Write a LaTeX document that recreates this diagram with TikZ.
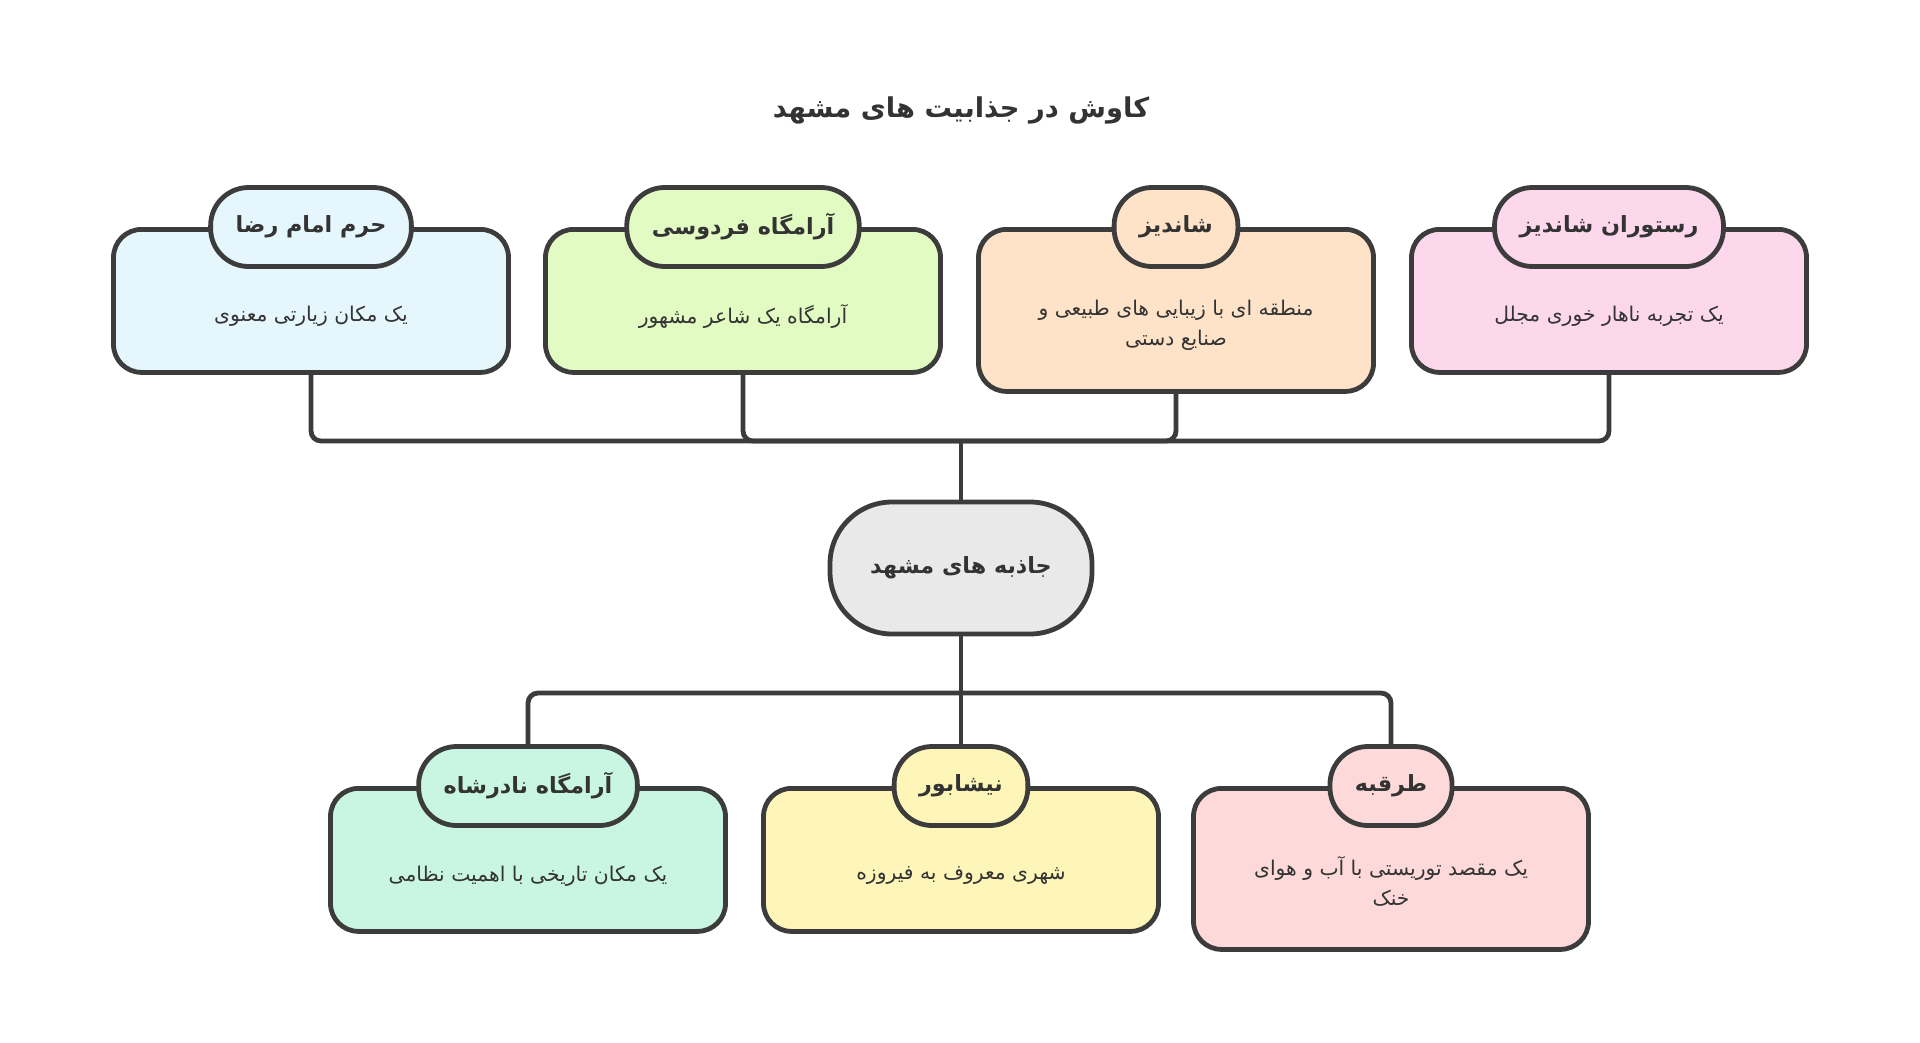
\documentclass[tikz,border=0pt]{standalone}
\usepackage{fontspec}
\TeXXeTstate=1
\newfontfamily\fa[Script=Arabic]{DejaVu Sans}
\definecolor{edge}{HTML}{3C3C3C}
\definecolor{ink}{HTML}{333333}
\definecolor{hubfill}{HTML}{E9E9E9}
\definecolor{haramfill}{HTML}{E5F6FD}
\definecolor{ferdfill}{HTML}{E1FBC2}
\definecolor{shandfill}{HTML}{FEE3C9}
\definecolor{restfill}{HTML}{FDD8EC}
\definecolor{naderfill}{HTML}{C9F6E2}
\definecolor{neyfill}{HTML}{FEF6B9}
\definecolor{torqfill}{HTML}{FDD9D9}

\begin{document}
\begin{tikzpicture}[x=1pt,y=-1pt,
  card/.style={draw=edge, line width=4.8pt, rounded corners=28pt, minimum width=395pt, minimum height=143pt, anchor=north},
  tab/.style={draw=edge, line width=4.8pt, rounded corners=38pt, minimum height=79pt, inner xsep=25pt, text=ink, font=\fa\bfseries\fontsize{22.3}{26}\selectfont},
  desc/.style={text=ink, align=center, font=\fa\fontsize{20.3}{30}\selectfont},
  link/.style={draw=edge, line width=4.8pt, rounded corners=10pt}]
\useasboundingbox (0,0) rectangle (1920,1042);

\node[text=ink, font=\fa\bfseries\fontsize{27.3}{32}\selectfont] (title) at (961,110) {\beginR کاوش در جذابیت های مشهد\endR};

\node[card, fill=haramfill] (c1) at (311,227) {};
\node[card, fill=ferdfill] (c2) at (743,227) {};
\node[card, fill=shandfill, minimum height=162pt] (c3) at (1176,227) {};
\node[card, fill=restfill] (c4) at (1609,227) {};

\node[tab, fill=haramfill] (t1) at (311,227) {\beginR حرم امام رضا\endR};
\node[tab, fill=ferdfill] (t2) at (743,227) {\beginR آرامگاه فردوسی\endR};
\node[tab, fill=shandfill] (t3) at (1176,227) {\beginR شاندیز\endR};
\node[tab, fill=restfill] (t4) at (1609,227) {\beginR رستوران شاندیز\endR};

\node[desc] (d1) at (311,316) {\beginR یک مکان زیارتی معنوی\endR};
\node[desc] (d2) at (743,316) {\beginR آرامگاه یک شاعر مشهور\endR};
\node[desc] (d3) at (1176,325) {\beginR منطقه ای با زیبایی های طبیعی و\endR\\\beginR صنایع دستی\endR};
\node[desc] (d4) at (1609,316) {\beginR یک تجربه ناهار خوری مجلل\endR};

\node[draw=edge, line width=4.8pt, fill=hubfill, rounded corners=62pt, minimum width=262pt, minimum height=132pt, text=ink, font=\fa\bfseries\fontsize{22.3}{26}\selectfont] (hub) at (961,568) {\beginR جاذبه های مشهد\endR};

\node[card, fill=naderfill] (c5) at (528,786) {};
\node[card, fill=neyfill] (c6) at (961,786) {};
\node[card, fill=torqfill, minimum height=161pt] (c7) at (1391,786) {};

\node[tab, fill=naderfill] (t5) at (528,786) {\beginR آرامگاه نادرشاه\endR};
\node[tab, fill=neyfill] (t6) at (961,786) {\beginR نیشابور\endR};
\node[tab, fill=torqfill] (t7) at (1391,786) {\beginR طرقبه\endR};

\node[desc] (d5) at (528,876) {\beginR یک مکان تاریخی با اهمیت نظامی\endR};
\node[desc] (d6) at (961,876) {\beginR شهری معروف به فیروزه\endR};
\node[desc] (d7) at (1391,881) {\beginR یک مقصد توریستی با آب و هوای\endR\\\beginR خنک\endR};

\coordinate (tj) at (961,441);
\coordinate (bj) at (961,693);
\draw[link] (c1.south) |- (tj);
\draw[link] (c2.south) |- (tj);
\draw[link] (c3.south) |- (tj);
\draw[link] (c4.south) |- (tj);
\draw[link] (tj) -- (hub.north);
\draw[link] (hub.south) -- (bj);
\draw[link] (bj) -| (t5.north);
\draw[link] (bj) -- (t6.north);
\draw[link] (bj) -| (t7.north);
\end{tikzpicture}
\end{document}
